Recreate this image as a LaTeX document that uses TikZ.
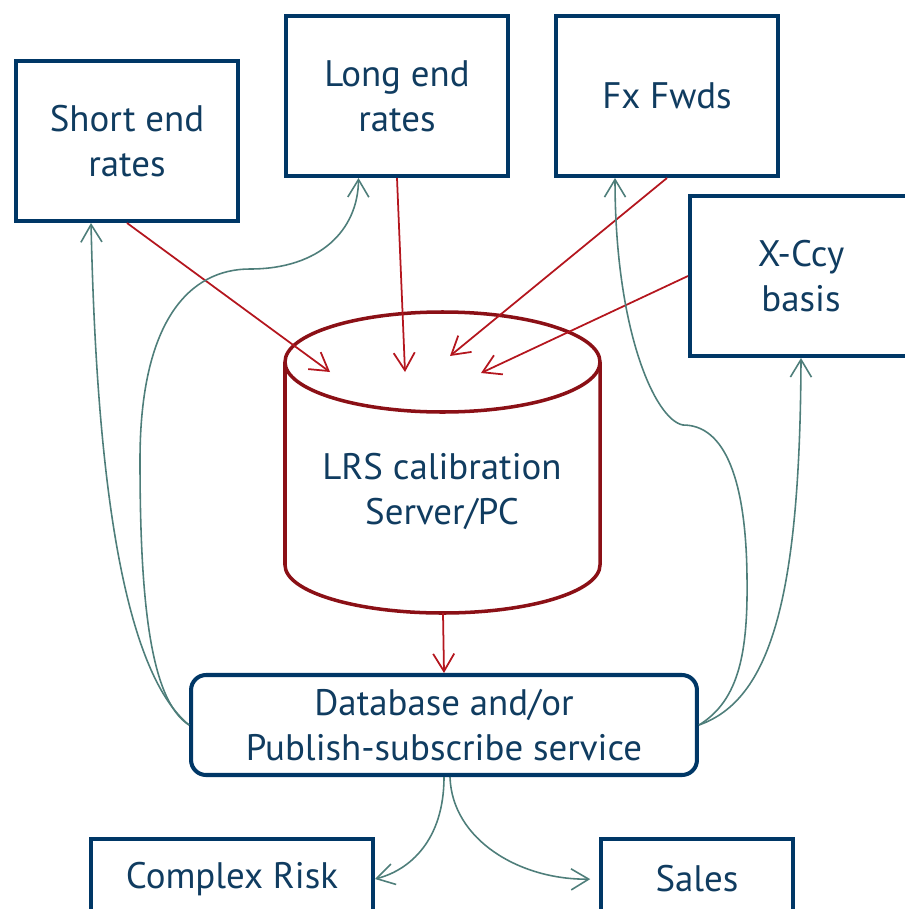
\documentclass[tikz,border=0pt]{standalone}
\usepackage{fontspec}
\setmainfont{PT Sans}
\usetikzlibrary{arrows.meta}

\definecolor{boxblue}{RGB}{0,55,102}
\definecolor{textblue}{RGB}{16,60,96}
\definecolor{cylred}{RGB}{139,16,22}
\definecolor{arrred}{RGB}{180,22,30}
\definecolor{pubteal}{RGB}{78,126,122}

\tikzset{
  label/.style={text=textblue, align=center, font=\fontsize{21}{25.6}\selectfont},
  src/.style={label, draw=boxblue, line width=2.3pt, minimum width=4.44cm, minimum height=3.2cm},
  feed/.style={draw=arrred, line width=1pt, -{Straight Barb[length=10pt,width=12pt]}},
  pub/.style={draw=pubteal, line width=0.9pt, -{Straight Barb[length=10pt,width=12pt]}},
}

\begin{document}
\begin{tikzpicture}[x=0.02cm,y=-0.02cm]

\useasboundingbox (0,0) rectangle (904,909);

\node[src] (short) at (127,141) {Short end\\rates};
\node[src] (long) at (397,96) {Long end\\rates};
\node[src] (fx) at (667,96) {Fx Fwds};
\node[src] (xccy) at (801,276) {X-Ccy\\basis};

\draw[cylred, line width=2pt] (442.5,362) ellipse [x radius=157.5, y radius=50];
\draw[cylred, line width=2pt] (285,362) -- (285,565) arc[start angle=180, end angle=0, x radius=157.5, y radius=48] -- (600,362);
\node[label] (lrs) at (442,491) {LRS calibration\\Server/PC};

\coordinate (cylbase) at (443,613);
\coordinate (in1) at (330,372);
\coordinate (in2) at (405,372);
\coordinate (in3) at (450,356);
\coordinate (in4) at (481,373);

\node[src, rounded corners=0.3cm, minimum width=10.12cm, minimum height=2cm] (db) at (444,725) {Database and/or\\Publish-subscribe service};
\node[src, minimum width=5.64cm, minimum height=1.6cm] (risk) at (232,879) {Complex Risk};
\node[src, minimum width=3.84cm, minimum height=1.6cm] (sales) at (697,879) {Sales};

\draw[feed] (short.south) -- (in1);
\draw[feed] (long.south) -- (in2);
\draw[feed] (fx.south) -- (in3);
\draw[feed] (xccy.west) -- (in4);
\draw[feed] (cylbase) -- (db.north);

\draw[pub] (db.west) .. controls (110,660) and (95,400) .. ([xshift=-0.72cm]short.south);
\draw[pub] (db.west) .. controls (150,700) and (140,600) .. (140,460) .. controls (140,320) and (190,269) .. (250,269) .. controls (320,269) and (358,230) .. ([xshift=-0.77cm]long.south);
\draw[pub] (db.east) .. controls (740,700) and (748,650) .. (747,577) .. controls (746,480) and (725,425) .. (683,425) .. controls (655,420) and (615,330) .. ([xshift=-1.04cm]fx.south);
\draw[pub] (db.east) .. controls (770,700) and (800,600) .. (xccy.south);

\draw[pub] (db.south) .. controls (444,840) and (410,870) .. (risk.east);
\draw[pub, shorten >=5pt] ([xshift=0.12cm]db.south) .. controls (452,840) and (520,880) .. (sales.west);

\end{tikzpicture}
\end{document}
